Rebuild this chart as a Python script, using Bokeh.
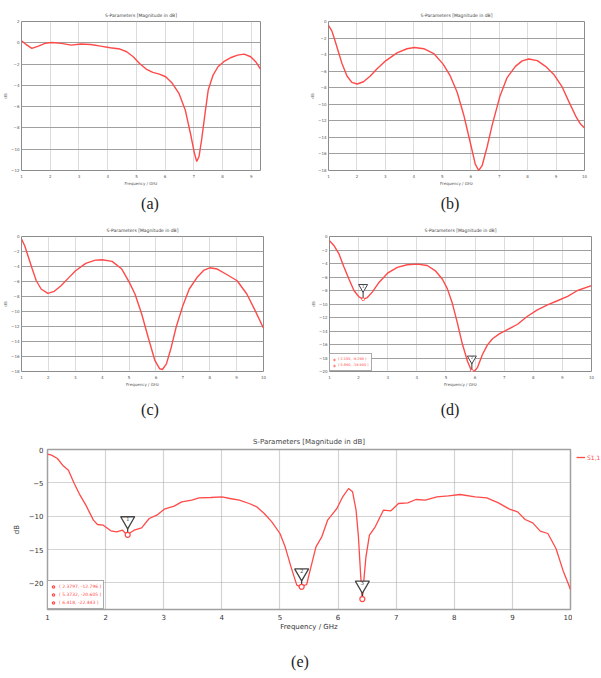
from bokeh.plotting import figure
from bokeh.layouts import column, row
from bokeh.models import FixedTicker, Div, Legend, LegendItem, Range1d
from bokeh.embed import file_html
from bokeh.resources import INLINE

TITLE = "S-Parameters [Magnitude in dB]"
XLABEL = "Frequency / GHz"
YLABEL = "dB"
CAPTIONS = ["(a)", "(b)", "(c)", "(d)", "(e)"]

# ---- panel (a)
a_freq = [1.0, 1.14, 1.36, 1.59, 1.82, 2.05, 2.39, 2.73, 3.07, 3.41, 3.75, 4.09, 4.43, 4.66, 4.89,
          5.11, 5.34, 5.57, 5.8, 6.02, 6.25, 6.48, 6.7, 6.88, 7.02, 7.1, 7.18, 7.27, 7.39, 7.5,
          7.67, 7.84, 8.07, 8.3, 8.52, 8.75, 8.98, 9.15, 9.32]
a_db = [0.19, -0.12, -0.53, -0.31, -0.06, 0.03, -0.06, -0.22, -0.12, -0.16, -0.31, -0.47, -0.59, -0.84, -1.31,
        -1.94, -2.47, -2.78, -2.94, -3.19, -3.81, -4.75, -6.31, -8.5, -10.38, -11.16, -10.69, -9.13, -6.63, -4.44,
        -3.03, -2.25, -1.72, -1.38, -1.16, -1.06, -1.31, -1.78, -2.47]
a_xticks = [1, 2, 3, 4, 5, 6, 7, 8, 9]
a_yticks = [2, 0, -2, -4, -6, -8, -10, -12]

# ---- panel (b)
b_freq = [1.0, 1.12, 1.23, 1.35, 1.47, 1.65, 1.82, 2.01, 2.23, 2.47, 2.7, 3.02, 3.41, 3.76, 4.02,
          4.35, 4.7, 5.03, 5.28, 5.52, 5.75, 5.99, 6.16, 6.28, 6.4, 6.58, 6.75, 7.02, 7.28, 7.57,
          7.81, 8.04, 8.34, 8.63, 8.92, 9.22, 9.45, 9.69, 9.86, 10.0]
b_db = [-0.46, -1.16, -2.32, -3.68, -5.03, -6.58, -7.36, -7.55, -7.28, -6.58, -5.73, -4.72, -3.79, -3.29, -3.14,
        -3.29, -3.87, -5.15, -6.58, -8.52, -11.23, -14.71, -17.23, -18.0, -17.42, -15.1, -12.58, -9.1, -6.78, -5.42,
        -4.76, -4.53, -4.72, -5.42, -6.39, -7.94, -9.68, -11.42, -12.39, -12.85]

# ---- panel (c)
c_freq = [1.0, 1.12, 1.24, 1.4, 1.55, 1.73, 1.98, 2.22, 2.47, 2.77, 3.01, 3.39, 3.75, 4.0, 4.37,
          4.73, 5.01, 5.22, 5.47, 5.71, 5.96, 6.14, 6.24, 6.39, 6.57, 6.75, 7.0, 7.24, 7.55, 7.79,
          8.0, 8.28, 8.65, 9.02, 9.38, 9.69, 10.0]
c_db = [-0.35, -1.24, -2.57, -4.34, -5.9, -7.0, -7.58, -7.31, -6.56, -5.45, -4.57, -3.59, -3.15, -3.1, -3.32,
        -4.34, -6.12, -7.67, -10.33, -13.43, -16.53, -17.64, -17.73, -16.98, -14.76, -12.1, -9.22, -7.0, -5.36, -4.48,
        -4.17, -4.34, -5.1, -5.9, -7.67, -9.88, -12.23]
bc_xticks = [1, 2, 3, 4, 5, 6, 7, 8, 9, 10]
bc_yticks = [0, -2, -4, -6, -8, -10, -12, -14, -16, -18]

# ---- panel (d)
d_freq = [1.0, 1.15, 1.32, 1.49, 1.67, 1.84, 2.01, 2.16, 2.3, 2.47, 2.7, 3.01, 3.33, 3.67, 4.02,
          4.36, 4.65, 4.88, 5.05, 5.22, 5.39, 5.56, 5.74, 5.87, 5.97, 6.08, 6.25, 6.42, 6.6, 6.83,
          7.11, 7.46, 7.8, 8.14, 8.49, 8.83, 9.18, 9.52, 10.0]
d_db = [-0.62, -1.33, -2.52, -4.43, -6.33, -8.0, -8.95, -9.29, -9.05, -8.24, -6.81, -5.38, -4.57, -4.19, -4.1,
        -4.29, -5.14, -6.33, -7.76, -9.9, -12.76, -15.86, -18.48, -19.81, -20.0, -19.43, -17.52, -16.1, -15.14, -14.43,
        -13.81, -13.0, -11.81, -10.86, -10.14, -9.52, -8.86, -8.0, -7.29]
d_yticks = [0, -2, -4, -6, -8, -10, -12, -14, -16, -18, -20]
d_mark_freq = [2.155, 5.89]
d_mark_db = [-9.296, -19.9]
d_mark_id = ["1", "2"]

# ---- panel (e)
e_freq = [1.0, 1.07, 1.17, 1.26, 1.36, 1.46, 1.56, 1.66, 1.79, 1.86, 1.96, 2.09, 2.19, 2.29, 2.37,
          2.49, 2.62, 2.75, 2.88, 3.01, 3.18, 3.31, 3.48, 3.61, 3.81, 4.0, 4.14, 4.3, 4.47, 4.6,
          4.73, 4.86, 5.0, 5.09, 5.19, 5.29, 5.36, 5.46, 5.52, 5.62, 5.72, 5.82, 5.92, 5.98, 6.08,
          6.18, 6.25, 6.31, 6.35, 6.39, 6.418, 6.45, 6.48, 6.54, 6.64, 6.78, 6.91, 7.04, 7.2, 7.34,
          7.5, 7.7, 7.9, 8.1, 8.36, 8.56, 8.76, 8.95, 9.09, 9.22, 9.35, 9.48, 9.61, 9.75, 9.87, 10.0]
e_db = [-0.7, -0.85, -1.35, -2.35, -3.1, -5.1, -6.85, -8.35, -10.6, -11.25, -11.35, -12.2, -12.35, -12.1, -12.8,
        -12.1, -11.75, -10.35, -9.85, -8.95, -8.5, -7.85, -7.6, -7.25, -7.2, -7.1, -7.35, -7.6, -8.1, -8.6,
        -9.6, -10.85, -12.6, -14.6, -17.6, -20.35, -20.6, -20.25, -18.1, -14.6, -13.1, -10.6, -9.5, -8.85, -7.1,
        -5.85, -6.35, -9.1, -13.0, -19.0, -22.44, -19.0, -16.1, -12.85, -11.6, -9.1, -9.2, -8.1, -8.0, -7.5,
        -7.6, -7.1, -6.95, -6.75, -7.1, -7.25, -8.0, -8.95, -9.35, -10.5, -11.0, -12.25, -12.6, -14.85, -18.1, -21.0]
e_xticks = [1, 2, 3, 4, 5, 6, 7, 8, 9, 10]
e_yticks = [0, -5, -10, -15, -20]
e_mark_freq = [2.3797, 5.3732, 6.418]
e_mark_db = [-12.796, -20.605, -22.443]
e_mark_id = ["1", "2", "3"]
SERIES = "S1,1"

RED = "#ff4a4a"
FONT = "DejaVu Sans"


def base_fig(w, h, borders, xr, yr, xticks, yticks, fs, title_fs, standoff):
    p = figure(width=w, height=h, x_range=Range1d(*xr), y_range=Range1d(*yr),
               output_backend="svg", toolbar_location=None,
               min_border_left=borders[0], min_border_right=borders[1],
               min_border_top=borders[2], min_border_bottom=borders[3])
    p.title.text = TITLE
    p.title.align = "center"
    p.title.text_font = FONT
    p.title.text_font_size = title_fs
    p.title.text_font_style = "normal"
    p.title.text_color = "#444444"
    p.title.standoff = standoff
    p.outline_line_color = "#8c8c8c"
    p.outline_line_width = 1
    p.xaxis.ticker = FixedTicker(ticks=xticks)
    p.yaxis.ticker = FixedTicker(ticks=yticks)
    for ax in (p.xaxis, p.yaxis):
        ax.axis_line_color = None
        ax.major_tick_line_color = None
        ax.minor_tick_line_color = None
        ax.major_tick_out = 0
        ax.major_tick_in = 0
        ax.minor_tick_out = 0
        ax.minor_tick_in = 0
        ax.major_label_text_font = FONT
        ax.major_label_text_font_size = fs
        ax.major_label_text_color = "#555555"
        ax.axis_label_text_font = FONT
        ax.axis_label_text_font_size = fs
        ax.axis_label_text_font_style = "normal"
        ax.axis_label_text_color = "#555555"
        ax.axis_label_standoff = 0
    p.xaxis.major_label_standoff = 4
    p.yaxis.major_label_standoff = 2
    p.xaxis.axis_label = XLABEL
    p.yaxis.axis_label = YLABEL
    p.xgrid.ticker = FixedTicker(ticks=xticks)
    p.ygrid.ticker = FixedTicker(ticks=yticks)
    return p


def small_panel(w, h, borders, xr, yr, xticks, yticks, freq, db):
    p = base_fig(w, h, borders, xr, yr, xticks, yticks, "4px", "4.5px", 7)
    p.ygrid.grid_line_color = "#a0a0a0"
    p.ygrid.grid_line_width = 1
    p.xgrid.grid_line_color = "#b8b8b8"
    p.xgrid.grid_line_dash = "1 1"
    p.line(freq, db, line_color=RED, line_width=1.4)
    return p


pa = small_panel(300, 192, (16, 40, 21, 22), (1, 9.32), (-12, 2), a_xticks, a_yticks, a_freq, a_db)
pb = small_panel(300, 192, (28, 16, 17, 20), (1, 10), (-18, 0), bc_xticks, bc_yticks, b_freq, b_db)
pc = small_panel(300, 180, (18, 37, 20, 25), (1, 10), (-18, 0), bc_xticks, bc_yticks, c_freq, c_db)
pd = small_panel(300, 180, (29, 9, 15, 25), (1, 10), (-20, 0), bc_xticks, d_yticks, d_freq, d_db)

# markers on (d)
d_tri = [v + 1.8 for v in d_mark_db]
pd.segment(x0=d_mark_freq, y0=d_mark_db, x1=d_mark_freq, y1=d_tri, line_color="#333333", line_width=1)
d_circ = pd.scatter(d_mark_freq, d_mark_db, marker="circle", size=3, fill_color="white",
                    line_color=RED, line_width=0.8)
pd.scatter(d_mark_freq, d_tri, marker="inverted_triangle", size=9, fill_color="white",
           line_color="#444444", line_width=1)
pd.text(d_mark_freq, d_tri, text=d_mark_id, text_font_size="3.5px", text_align="center",
        text_baseline="middle", y_offset=-1, text_color="#333333")
pd.add_layout(Legend(items=[LegendItem(label="( %.3f, %.3f )" % (f, v), renderers=[d_circ], index=i)
                            for i, (f, v) in enumerate(zip(d_mark_freq, d_mark_db))],
                     location="bottom_left", margin=0, padding=2, spacing=0,
                     label_text_font=FONT, label_text_font_size="3.5px", label_text_color=RED,
                     label_height=6, glyph_height=5, glyph_width=4, label_standoff=2,
                     border_line_color="#555555", border_line_width=1, background_fill_color="white"))

# ---- panel (e)
pe = base_fig(572, 224, (47, 2, 25, 39), (1, 10), (-24, 0), e_xticks, e_yticks, "7px", "7px", 7)
for g in (pe.xgrid, pe.ygrid):
    g.grid_line_color = "#a8a8a8"
    g.grid_line_dash = "1 1"
    g.grid_line_width = 1.2
pe.outline_line_color = "#a0a0a0"
pe.outline_line_width = 1.5
pe.yaxis.major_label_standoff = 4
pe.yaxis.axis_label_standoff = 5
pe.xaxis.major_label_standoff = 4
pe.xaxis.axis_label_standoff = 0
for ax in (pe.xaxis, pe.yaxis):
    ax.major_label_text_color = "#333333"
    ax.axis_label_text_color = "#333333"
r = pe.line(e_freq, e_db, line_color=RED, line_width=1.3)
e_tri = [v + 2.1 for v in e_mark_db]
pe.segment(x0=e_mark_freq, y0=e_mark_db, x1=e_mark_freq, y1=e_tri, line_color="#333333", line_width=1.2)
e_circ = pe.scatter(e_mark_freq, e_mark_db, marker="circle", size=5, fill_color="white",
                    line_color=RED, line_width=1.2)
pe.scatter(e_mark_freq, e_tri, marker="inverted_triangle", size=14, fill_color="white",
           line_color="#444444", line_width=1.3)
pe.text(e_mark_freq, e_tri, text=e_mark_id, text_font=FONT, text_font_size="6px", text_align="center",
        text_baseline="middle", y_offset=-2, text_color="#333333")
pe.add_layout(Legend(items=[LegendItem(label="( %s, %s )" % (f, v), renderers=[e_circ], index=i)
                            for i, (f, v) in enumerate(zip(e_mark_freq, e_mark_db))],
                     location="bottom_left", margin=0, padding=2, spacing=1,
                     label_text_font=FONT, label_text_font_size="4.5px", label_text_color=RED,
                     label_height=7, glyph_height=7, glyph_width=6, label_standoff=3,
                     border_line_color="#555555", border_line_width=1.5, background_fill_color="white"))

# legend for the series, in a narrow strip right of (e); the series is drawn out of this strip's view
pl = figure(width=29, height=224, x_range=Range1d(20, 21), y_range=Range1d(0, 1),
            output_backend="svg", toolbar_location=None,
            min_border_left=0, min_border_right=0, min_border_top=13, min_border_bottom=0,
            x_axis_location=None, y_axis_location=None, outline_line_color=None)
pl.grid.visible = False
pl.title.visible = False
rl = pl.line(e_freq, e_db, line_color=RED, line_width=1.3)
pl.add_layout(Legend(items=[LegendItem(label=SERIES, renderers=[rl])], location="top_left",
                     label_text_font=FONT, label_text_font_size="6px", label_text_color=RED,
                     glyph_width=9, glyph_height=8, label_height=8, label_standoff=2, padding=0, margin=4,
                     spacing=0, border_line_color=None, background_fill_alpha=0))


def caption(txt, w, h):
    return Div(text='<div style="margin:0;padding:0;width:%dpx;height:%dpx;line-height:%dpx;text-align:center;'
                    'font-family:\'Liberation Serif\';font-size:16px;color:#222222">%s</div>' % (w, h, h, txt),
               width=w, height=h, margin=0)


layout = column(
    row(pa, pb),
    row(caption(CAPTIONS[0], 300, 24), caption(CAPTIONS[1], 300, 24)),
    row(pc, pd),
    row(caption(CAPTIONS[2], 300, 28), caption(CAPTIONS[3], 300, 28)),
    row(pe, pl),
    caption(CAPTIONS[4], 600, 28),
)

open("out.html", "w").write(file_html(layout, INLINE))
